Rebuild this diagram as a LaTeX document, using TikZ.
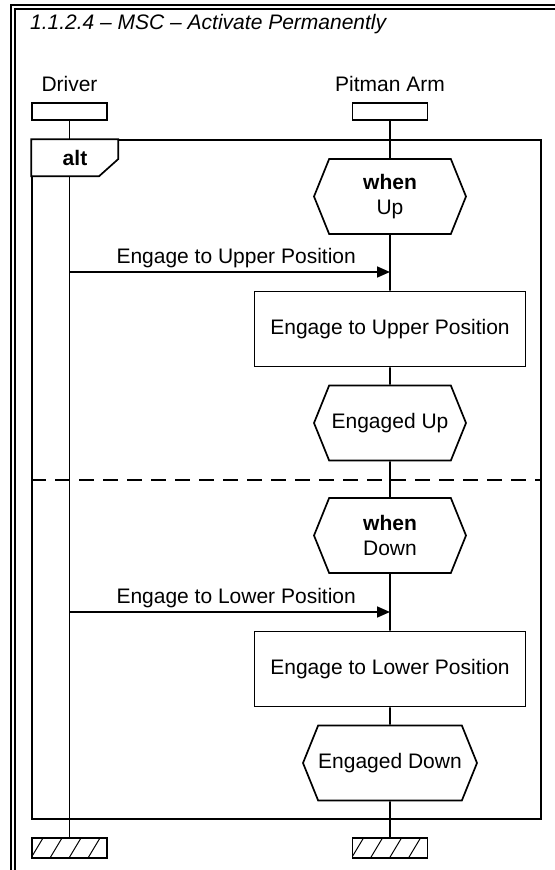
\documentclass[tikz,border=0pt]{standalone}
\usepackage{fontspec}
\setmainfont{Liberation Sans}
\usepackage{tikz}
\usetikzlibrary{arrows.meta,shapes.symbols}

\begin{document}
\begin{tikzpicture}[
  line width=1.7bp,
  font=\fontsize{21bp}{25bp}\selectfont,
  headbox/.style={draw,fill=white,minimum width=75bp,minimum height=17bp,inner sep=0pt},
  endbox/.style={draw,fill=white,minimum width=75bp,minimum height=20bp,inner sep=0pt,
    path picture={\foreach \k in {0,...,4} \draw[line width=1bp] ([xshift=\k*19bp-38.5bp]path picture bounding box.south) -- ++(12bp,20bp);}},
  condhex/.style={draw,fill=white,signal,signal to=east and west,signal pointer angle=136,minimum width=152bp,minimum height=75bp,inner sep=0pt,align=center},
  actbox/.style={draw,fill=white,minimum width=271bp,minimum height=75bp,inner sep=0pt},
  msg/.style={-{Triangle[length=13bp,width=11bp]}},
  msglabel/.style={above=1bp,inner sep=2bp,pos=0.52}
]
\useasboundingbox (0,0) rectangle (555bp,-870bp);
\draw (11bp,-870bp) -- (11bp,-5bp) -- (555bp,-5bp);
\draw (15bp,-870bp) -- (15bp,-9bp) -- (555bp,-9bp);

\node (title) at (26bp,-24bp)[anchor=west,font=\fontsize{21bp}{25bp}\selectfont\itshape] {1.1.2.4 – MSC – Activate Permanently};
\node (drvLabel) at (69.5bp,-84bp) {Driver};
\node (pitLabel) at (390bp,-84bp) {Pitman Arm};

\node (altFrame) at (286.5bp,-479.5bp)[draw,minimum width=509bp,minimum height=679bp,inner sep=0pt] {};
\node (drvHead) at (69.5bp,-111.5bp)[headbox] {};
\node (pitHead) at (390bp,-111.5bp)[headbox] {};
\node (drvEnd) at (69.5bp,-848bp)[endbox] {};
\node (pitEnd) at (390bp,-848bp)[endbox] {};
\draw (drvHead) -- (drvEnd);

\draw[fill=white] (altFrame.north west) -- ++(87bp,0) -- ++(0,-20bp) -- ++(-19bp,-17bp) -- ++(-68bp,0) -- cycle;
\node (altTag) at (75bp,-158bp) {\textbf{alt}};
\draw[dash pattern=on 15bp off 9bp] (altFrame.west |- 0bp,-480bp) -- (altFrame.east |- 0bp,-480bp);

\node (whenUp) at (390bp,-196.5bp)[condhex] {\textbf{when}\\Up};
\node (upBox) at (390bp,-329bp)[actbox] {Engage to Upper Position};
\node (engUp) at (390bp,-423bp)[condhex] {Engaged Up};
\node (whenDown) at (390bp,-535.5bp)[condhex] {\textbf{when}\\Down};
\node (lowBox) at (390bp,-669bp)[actbox] {Engage to Lower Position};
\node (engDown) at (390bp,-763bp)[condhex,minimum width=174bp] {Engaged Down};
\foreach \a/\b in {pitHead/whenUp,whenUp/upBox,upBox/engUp,engUp/whenDown,whenDown/lowBox,lowBox/engDown,engDown/pitEnd}
  \draw (\a) -- (\b);

\coordinate (upFrom) at (69.5bp,-272bp);
\coordinate (upTo) at (390bp,-272bp);
\coordinate (lowFrom) at (69.5bp,-612bp);
\coordinate (lowTo) at (390bp,-612bp);
\draw[msg] (upFrom) -- node[msglabel] {Engage to Upper Position} (upTo);
\draw[msg] (lowFrom) -- node[msglabel] {Engage to Lower Position} (lowTo);
\end{tikzpicture}
\end{document}
